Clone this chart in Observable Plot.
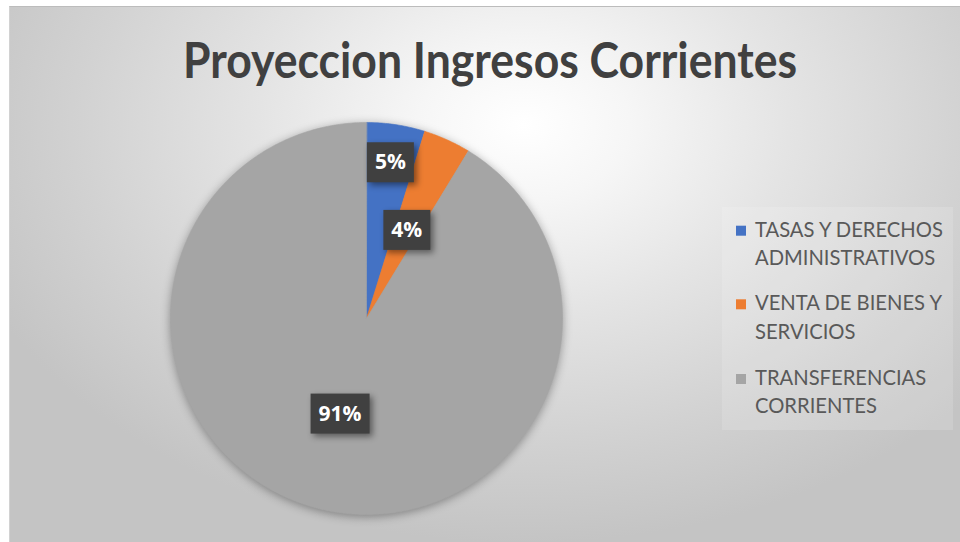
<!DOCTYPE html>
<html><head><meta charset="utf-8">
<script src="https://cdn.jsdelivr.net/npm/d3@7"></script>
<script src="https://cdn.jsdelivr.net/npm/@observablehq/plot@0.6"></script>
<style>
body{margin:0;background:#fff;}
#wrap{position:relative;width:960px;height:542px;overflow:hidden;}
#bg{position:absolute;left:9px;top:6px;width:951px;height:536px;border-top:1px solid #bcbcbc;border-left:1px solid #d2d2d2;
 background:radial-gradient(ellipse 62% 78% at 54% 22%, #ffffff 0%, #f6f6f6 18%, #e4e4e4 45%, #d2d2d2 75%, #c4c4c4 100%);}
#chart{position:absolute;left:0;top:0;}
#legendbox{position:absolute;left:722px;top:207px;width:231px;height:223px;background:rgba(255,255,255,0.14);}
#over{position:absolute;left:0;top:0;}
</style></head>
<body>
<div id="wrap"><div id="bg"></div><div id="legendbox"></div><div id="chart"></div></div>
<script>
const title = "Proyeccion Ingresos Corrientes";
const categories = ["TASAS Y DERECHOS ADMINISTRATIVOS", "VENTA DE BIENES Y SERVICIOS", "TRANSFERENCIAS CORRIENTES"];
const legendLines = [["TASAS Y DERECHOS", "ADMINISTRATIVOS"], ["VENTA DE BIENES Y", "SERVICIOS"], ["TRANSFERENCIAS", "CORRIENTES"]];
const values = [4.8, 3.9, 91.3];
const colors = ["#4472C4", "#ED7D31", "#A5A5A5"];

// geometry (pixels)
const W = 960, H = 542, CX = 366, CY = 318, R = 196;
const labelRadius = [0.81, 0.5, 0.5];

const total = d3.sum(values);
const arcs = d3.pie().sort(null).value(d => d)(values);
const slicePts = [];
arcs.forEach((a, i) => {
  slicePts.push({cat: categories[i], x: 0, y: 0});
  const n = Math.max(4, Math.ceil((a.endAngle - a.startAngle) / 0.01));
  for (let k = 0; k <= n; k++) {
    const t = a.startAngle + (a.endAngle - a.startAngle) * k / n;
    slicePts.push({cat: categories[i], x: Math.sin(t), y: Math.cos(t)});
  }
});
const labelData = arcs.map((a, i) => {
  const m = (a.startAngle + a.endAngle) / 2;
  return {x: labelRadius[i] * Math.sin(m), y: labelRadius[i] * Math.cos(m),
          label: d3.format(".0%")(values[i] / total)};
});

const chart = Plot.plot({
  width: W, height: H, margin: 0,
  x: {domain: [-CX / R, (W - CX) / R], axis: null},
  y: {domain: [-(H - CY) / R, CY / R], axis: null},
  color: {domain: categories, range: colors},
  style: {background: "none", overflow: "visible"},
  marks: [
    Plot.line(slicePts, {x: "x", y: "y", z: "cat", fill: "cat", stroke: "cat", strokeWidth: 0.6, curve: "linear-closed"}),
    Plot.text(labelData, {x: "x", y: "y", text: "label", fill: "white", fontSize: 21, fontWeight: "bold",
      fontFamily: "'Open Sans', sans-serif", dy: 1})
  ]
});
document.getElementById("chart").appendChild(chart);

const svg = d3.select(chart);
svg.select('g[aria-label="line"]').style("filter", "drop-shadow(0px 2px 5px rgba(0,0,0,0.35))");
svg.selectAll('g[aria-label="text"] text').each(function() {
  const b = this.getBBox();
  const padX = 8, h = 40;
  const cyy = b.y + b.height / 2 + 1;
  d3.select(this.parentNode).insert("rect", () => this)
    .attr("x", b.x - padX).attr("y", cyy - h / 2)
    .attr("width", b.width + 2 * padX).attr("height", h)
    .attr("transform", this.getAttribute("transform"))
    .attr("fill", "#404040")
    .style("filter", "drop-shadow(3px 3px 3px rgba(0,0,0,0.45))");
});

// overlay: title + legend
const over = d3.select("#wrap").append("svg").attr("id", "over").attr("width", W).attr("height", H);
over.append("text").attr("x", 490).attr("y", 78).attr("text-anchor", "middle")
  .attr("font-family", "Lato, 'Open Sans', sans-serif").attr("font-weight", "bold").attr("font-size", 50)
  .attr("fill", "#404040").attr("textLength", 614).attr("lengthAdjust", "spacingAndGlyphs").text(title);

const lg = over.append("g");
const itemTop = [236.7, 310.3, 385];
const lineGap = 28.5;
legendLines.forEach((lines, i) => {
  lg.append("rect").attr("x", 736).attr("y", itemTop[i] - 11).attr("width", 10).attr("height", 10).attr("fill", colors[i]);
});
const tg = lg.append("g");
legendLines.forEach((lines, i) => {
  lines.forEach((t, j) => {
    tg.append("text").attr("x", 0).attr("y", itemTop[i] + j * lineGap)
      .attr("font-family", "Lato, 'Open Sans', sans-serif").attr("font-size", 22).attr("fill", "#595959").text(t);
  });
});
const firstLen = tg.select("text").node().getComputedTextLength();
tg.attr("transform", `translate(755,0) scale(${188 / firstLen},1)`);
</script>
</body></html>
